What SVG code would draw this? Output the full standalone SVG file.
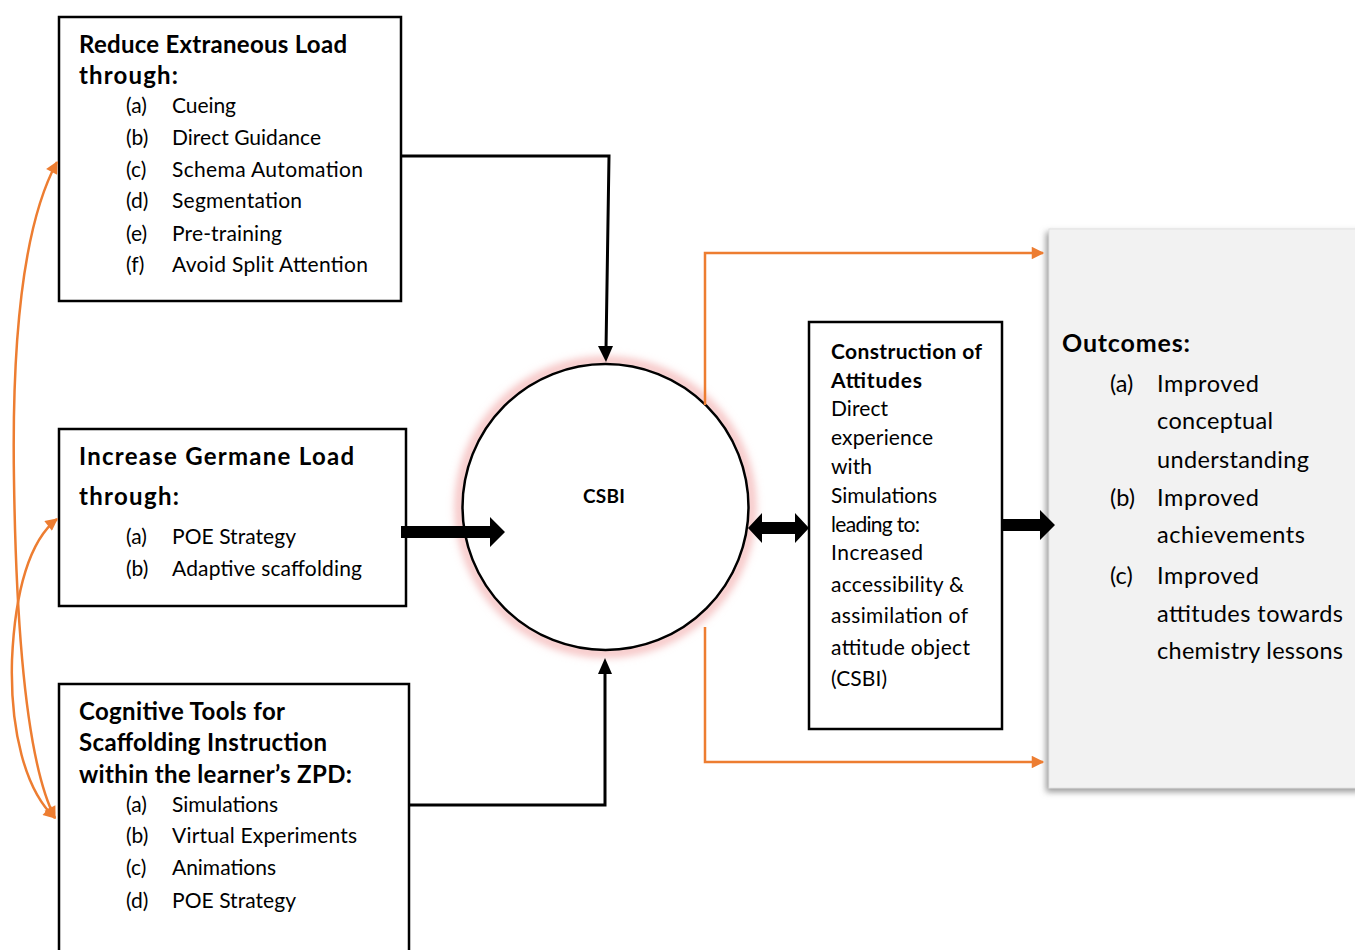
<svg xmlns="http://www.w3.org/2000/svg" width="1355" height="950" viewBox="0 0 1355 950">
<style>
  .box { fill: #ffffff; stroke: #000000; stroke-width: 2.5; }
  .h { font-family: Lato, "Liberation Sans", sans-serif; font-weight: bold; font-size: 24px; fill: #000; }
  .t { font-family: Lato, "Liberation Sans", sans-serif; font-size: 21px; fill: #000; }
  .c { font-family: Lato, "Liberation Sans", sans-serif; font-size: 21px; fill: #000; }
  .cb { font-family: Lato, "Liberation Sans", sans-serif; font-size: 21px; font-weight: bold; fill: #000; }
  .o { font-family: Lato, "Liberation Sans", sans-serif; font-size: 23.5px; fill: #000; }
  .ob { font-family: Lato, "Liberation Sans", sans-serif; font-size: 25px; font-weight: bold; fill: #000; }
  .blk { fill: none; stroke: #000; stroke-width: 3; }
  .org { fill: none; stroke: #ed7d31; stroke-width: 2.5; }
</style>
<defs>
  <marker id="ao" viewBox="0 0 10 10" refX="9" refY="5" markerWidth="6" markerHeight="5" orient="auto" markerUnits="strokeWidth">
    <path d="M0,0 L10,5 L0,10 z" fill="#ed7d31"/>
  </marker>
  <marker id="aos" viewBox="0 0 10 10" refX="9" refY="5" markerWidth="6" markerHeight="5" orient="auto-start-reverse" markerUnits="strokeWidth">
    <path d="M0,0 L10,5 L0,10 z" fill="#ed7d31"/>
  </marker>
  <filter id="glow" x="-20%" y="-20%" width="140%" height="140%">
    <feGaussianBlur stdDeviation="4"/>
  </filter>
  <filter id="sh" x="-5%" y="-5%" width="110%" height="110%">
    <feGaussianBlur stdDeviation="3"/>
  </filter>
</defs>

<!-- Outcomes box -->
<g id="outcomes">
  <rect x="1046" y="232" width="315" height="560" fill="#9a9a9a" filter="url(#sh)"/>
  <rect x="1049" y="229" width="310" height="559" fill="#f2f2f2" stroke="#e2e2e2" stroke-width="1"/>
  <text class="ob" x="1062" y="352" textLength="128">Outcomes:</text>
  <text class="o" x="1110" y="392">(a)</text><text class="o" x="1157" y="392" textLength="102">Improved</text>
  <text class="o" x="1157" y="429" textLength="116">conceptual</text>
  <text class="o" x="1157" y="468" textLength="152">understanding</text>
  <text class="o" x="1110" y="506">(b)</text><text class="o" x="1157" y="506" textLength="102">Improved</text>
  <text class="o" x="1157" y="543" textLength="148">achievements</text>
  <text class="o" x="1110" y="584">(c)</text><text class="o" x="1157" y="584" textLength="102">Improved</text>
  <text class="o" x="1157" y="622" textLength="186">attitudes towards</text>
  <text class="o" x="1157" y="659" textLength="186">chemistry lessons</text>
</g>

<!-- Box 1 -->
<g id="reduce-extraneous">
  <rect x="59" y="17" width="342" height="284" class="box"/>
  <text class="h" x="79" y="53" textLength="268">Reduce Extraneous Load</text>
  <text class="h" x="79" y="84" textLength="99">through:</text>
  <text class="t" x="126" y="113">(a)</text><text class="t" x="172" y="113" textLength="64">Cueing</text>
  <text class="t" x="126" y="145">(b)</text><text class="t" x="172" y="145" textLength="149">Direct Guidance</text>
  <text class="t" x="126" y="177">(c)</text><text class="t" x="172" y="177" textLength="191">Schema  Automation</text>
  <text class="t" x="126" y="208">(d)</text><text class="t" x="172" y="208" textLength="130">Segmentation</text>
  <text class="t" x="126" y="241">(e)</text><text class="t" x="172" y="241" textLength="110">Pre-training</text>
  <text class="t" x="126" y="272">(f)</text><text class="t" x="172" y="272" textLength="196">Avoid  Split  Attention</text>
</g>

<!-- Box 2 -->
<g id="increase-germane">
  <rect x="59" y="429" width="347" height="177" class="box"/>
  <text class="h" x="79" y="465" textLength="275">Increase  Germane  Load</text>
  <text class="h" x="79" y="505" textLength="100">through:</text>
  <text class="t" x="126" y="544">(a)</text><text class="t" x="172" y="544" textLength="124">POE Strategy</text>
  <text class="t" x="126" y="576">(b)</text><text class="t" x="172" y="576" textLength="190">Adaptive  scaffolding</text>
</g>

<!-- Box 3 -->
<g id="cognitive-tools">
  <rect x="59" y="684" width="350" height="280" class="box"/>
  <text class="h" x="79" y="720" textLength="206">Cognitive Tools for</text>
  <text class="h" x="79" y="751" textLength="248">Scaffolding Instruction</text>
  <text class="h" x="79" y="783" textLength="273">within the learner’s ZPD:</text>
  <text class="t" x="126" y="812">(a)</text><text class="t" x="172" y="812" textLength="106">Simulations</text>
  <text class="t" x="126" y="843">(b)</text><text class="t" x="172" y="843" textLength="185">Virtual Experiments</text>
  <text class="t" x="126" y="875">(c)</text><text class="t" x="172" y="875" textLength="104">Animations</text>
  <text class="t" x="126" y="908">(d)</text><text class="t" x="172" y="908" textLength="124">POE Strategy</text>
</g>

<!-- CSBI circle -->
<g id="csbi">
  <circle cx="605.5" cy="507" r="146" fill="none" stroke="#f4b8b8" stroke-width="8" filter="url(#glow)"/>
  <circle cx="605.5" cy="507" r="143" fill="#ffffff" stroke="#000" stroke-width="2.5"/>
  <text x="604" y="503" text-anchor="middle" font-family="Lato, 'Liberation Sans', sans-serif" font-weight="bold" font-size="19" textLength="42">CSBI</text>
</g>

<!-- Construction box -->
<g id="construction">
  <rect x="809" y="322" width="193" height="407" class="box"/>
  <text class="cb" x="831" y="359" textLength="151">Construction of</text>
  <text class="cb" x="831" y="388" textLength="91">Attitudes</text>
  <text class="c" x="831" y="416" textLength="57">Direct</text>
  <text class="c" x="831" y="445" textLength="102">experience</text>
  <text class="c" x="831" y="474" textLength="41">with</text>
  <text class="c" x="831" y="503" textLength="106">Simulations</text>
  <text class="c" x="831" y="532" textLength="89">leading to:</text>
  <text class="c" x="831" y="560" textLength="92">Increased</text>
  <text class="c" x="831" y="592" textLength="133">accessibility &amp;</text>
  <text class="c" x="831" y="623" textLength="137">assimilation of</text>
  <text class="c" x="831" y="655" textLength="139">attitude object</text>
  <text class="c" x="831" y="686" textLength="56">(CSBI)</text>
</g>

<!-- Connectors -->
<g id="connectors">
  <path class="blk" d="M401,156 L609,156 L606,350" />
  <path d="M598,346 L606,362 L613,346 z" fill="#000"/>
  <path class="blk" d="M409,805 L605,805 L605,672" />
  <path d="M598,674 L605,658 L612,674 z" fill="#000"/>
  <path d="M401,526 L490,526 L490,517 L505,532 L490,547 L490,538 L401,538 z" fill="#000"/>
  <path d="M748,528 L762,513 L762,522 L795,522 L795,513 L809,528 L795,543 L795,534 L762,534 L762,543 z" fill="#000"/>
  <path d="M1002,519 L1040,519 L1040,510 L1055,525 L1040,540 L1040,531 L1002,531 z" fill="#000"/>
  <path class="org" d="M705,405 L705,253 L1043,253" marker-end="url(#ao)"/>
  <path class="org" d="M705,627 L705,762 L1043,762" marker-end="url(#ao)"/>
  <path class="org" d="M57,162 C20,230 12,360 14,480 C16,620 25,760 55,818" marker-start="url(#aos)" marker-end="url(#ao)"/>
  <path class="org" d="M57,519 C30,540 15,590 12,660 C10,730 25,790 55,818" marker-start="url(#aos)" marker-end="url(#ao)"/>
</g>
</svg>
